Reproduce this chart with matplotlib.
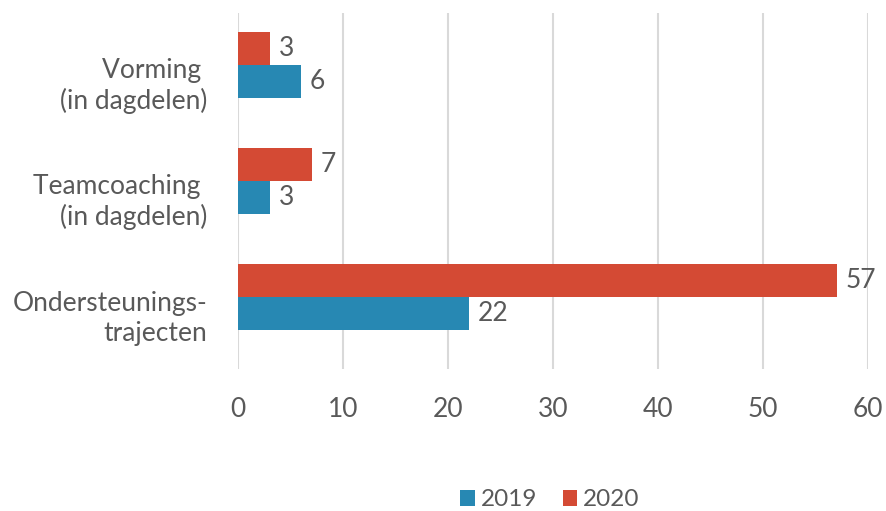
import matplotlib
matplotlib.use("Agg")
import matplotlib.pyplot as plt
from matplotlib.transforms import ScaledTranslation
import numpy as np

categories = ["Ondersteunings-\ntrajecten", "Teamcoaching \n(in dagdelen)", "Vorming \n(in dagdelen)"]
values_2019 = [22, 3, 6]
values_2020 = [57, 7, 3]
series_names = ["2019", "2020"]
xticks = [0, 10, 20, 30, 40, 50, 60]

plt.rcParams['font.family'] = ['Lato', 'DejaVu Sans']
txt = '#595959'
c19 = '#2788B3'
c20 = '#D44A34'

fig = plt.figure(figsize=(8.86, 5.11), dpi=100)
ax = fig.add_axes([238/886, 1-369/511, (868-238)/886, (369-13)/511])

y = np.arange(len(categories))
h = 0.284
b19 = ax.barh(y - h/2, values_2019, height=h, color=c19, label=series_names[0], zorder=3)
b20 = ax.barh(y + h/2, values_2020, height=h, color=c20, label=series_names[1], zorder=3)
for bars in (b19, b20):
    ax.bar_label(bars, padding=6.5, fontsize=19, color=txt)

ax.set_xlim(0, 60)
ax.set_ylim(-0.62, 2.448)
ax.set_xticks(xticks)
ax.set_yticks(y)
ax.set_yticklabels(categories, fontsize=19, color=txt, ha='right', multialignment='right',
                   linespacing=1.25)
ax.tick_params(axis='x', labelsize=19, colors=txt, length=0, pad=20)
ax.tick_params(axis='y', length=0, pad=22)
off = ScaledTranslation(0, -16/100, fig.dpi_scale_trans)
for lab in ax.get_yticklabels():
    lab.set_transform(lab.get_transform() + off)
ax.xaxis.grid(True, color='#D9D9D9', linewidth=1.5, zorder=0)
for s in ax.spines.values():
    s.set_visible(False)

leg = fig.legend(handles=[b19, b20], labels=series_names, loc='center', bbox_to_anchor=(550/886, 1-500/511),
                 ncol=2, frameon=False, fontsize=17.5, handlelength=0.6, handleheight=0.6,
                 handletextpad=0.25, columnspacing=1.05)
for t in leg.get_texts():
    t.set_color(txt)

fig.savefig("out.png", dpi=100)
